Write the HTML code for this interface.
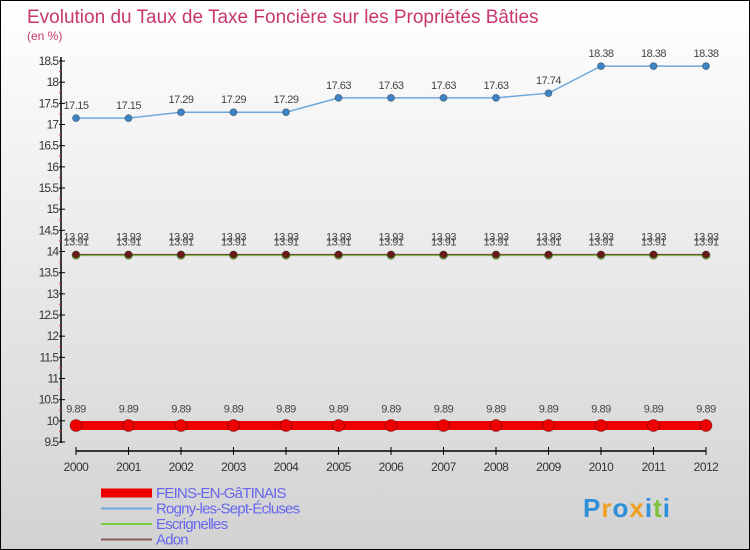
<!DOCTYPE html>
<html><head><meta charset="utf-8"><style>
body{margin:0}
#c{width:750px;height:550px;position:relative;box-sizing:border-box;border:1px solid #000;background:linear-gradient(#ffffff,#d2d2d2);font-family:"Liberation Sans",sans-serif;overflow:hidden}
</style></head><body>
<div id="c">
<svg id="s" width="750" height="550" style="position:absolute;left:0;top:0"></svg>
</div>
<script>
const years=[2000,2001,2002,2003,2004,2005,2006,2007,2008,2009,2010,2011,2012];
const feins=[9.89,9.89,9.89,9.89,9.89,9.89,9.89,9.89,9.89,9.89,9.89,9.89,9.89];
const rogny=[17.15,17.15,17.29,17.29,17.29,17.63,17.63,17.63,17.63,17.74,18.38,18.38,18.38];
const escr=[13.91,13.91,13.91,13.91,13.91,13.91,13.91,13.91,13.91,13.91,13.91,13.91,13.91];
const adon=[13.93,13.93,13.93,13.93,13.93,13.93,13.93,13.93,13.93,13.93,13.93,13.93,13.93];
const yTicks=[9.5,10,10.5,11,11.5,12,12.5,13,13.5,14,14.5,15,15.5,16,16.5,17,17.5,18,18.5];
const legendNames=["FEINS-EN-GâTINAIS","Rogny-les-Sept-Écluses","Escrignelles","Adon"];
const s=document.getElementById('s');const NS='http://www.w3.org/2000/svg';
function el(t,a,name,txt){const e=document.createElementNS(NS,t);for(const k in a)e.setAttribute(k,a[k]);


if(txt!==undefined)e.textContent=txt;s.appendChild(e);return e;}
const X=i=>75+i*52.5, Y=v=>441-(v-9.5)*42.33;
el('text',{x:26,y:22,'font-size':19,fill:'#c8366e'},'chart-title','Evolution du Taux de Taxe Foncière sur les Propriétés Bâties');
el('text',{x:26,y:39,'font-size':12,fill:'#c8366e'},'y-unit-label','(en %)');
el('line',{x1:60,y1:56,x2:60,y2:442,stroke:'#000','stroke-width':1.5},'y-axis');
yTicks.forEach((v,i)=>{const y=Y(v);
el('line',{x1:58,y1:y,x2:64,y2:y,stroke:'#000'},'y-tick');
el('text',{x:57,y:y+4,'font-size':12,fill:'#333','text-anchor':'end','letter-spacing':'-1'},'y-tick-label',String(v));
if(i<yTicks.length-1)el('line',{x1:58,y1:Y(v+0.25),x2:60,y2:Y(v+0.25),stroke:'#e33'},'y-minor-tick');});
el('line',{x1:75,y1:450,x2:705,y2:450,stroke:'#000','stroke-width':1.5},'x-axis');
years.forEach((yr,i)=>{el('line',{x1:X(i),y1:446,x2:X(i),y2:454,stroke:'#000'},'x-tick');
el('text',{x:X(i),y:470,'font-size':12,fill:'#333','text-anchor':'middle','letter-spacing':'-0.5'},'x-tick-label',String(yr));});
function series(vals,color,w,r,fill,name,labels,dy){
el('polyline',{points:vals.map((v,i)=>X(i)+','+Y(v)).join(' '),fill:'none',stroke:color,'stroke-width':w},name+'-line');
vals.forEach((v,i)=>{el('circle',{cx:X(i),cy:Y(v),r:r,fill:fill,stroke:'rgba(0,0,0,0.3)'},name+'-point');
if(labels)el('text',{x:X(i),y:Y(v)+dy,'font-size':11,fill:'#444','text-anchor':'middle','letter-spacing':'-0.5'},name+'-value-label',String(v));});}
series(rogny,'#6fa8dc',1.5,3.5,'#3d85c6','rogny',true,-9);
series(escr,'#7ccc3c',1.5,4,'#7ccc3c','escrignelles',true,-10);
series(adon,'#7a4a4a',1.2,3.5,'#6b1a1a','adon',true,-14);
series(feins,'#ee0000',9,6,'#ee0000','feins',true,-13);
const lg=[['#ee0000',9],['#6fa8dc',2],['#7ccc3c',2],['#8b5a5a',2]];
legendNames.forEach((n,i)=>{const y=492+i*15.5;
el('line',{x1:100,y1:y,x2:151,y2:y,stroke:lg[i][0],'stroke-width':lg[i][1]},'legend-swatch');
el('text',{x:155,y:y+5,'font-size':15,fill:'#6666ee','letter-spacing':'-0.8'},'legend-entry',n);});
el('text',{x:582,y:516,'font-size':26,'font-weight':'bold','letter-spacing':'1'},'logo',"").innerHTML='<tspan fill="#2f8fd8">P</tspan><tspan fill="#f0a020">r</tspan><tspan fill="#2f8fd8">o</tspan><tspan fill="#f0a020">x</tspan><tspan fill="#2f8fd8">i</tspan><tspan fill="#80c040">t</tspan><tspan fill="#2f8fd8">i</tspan>';
</script>
</body></html>
